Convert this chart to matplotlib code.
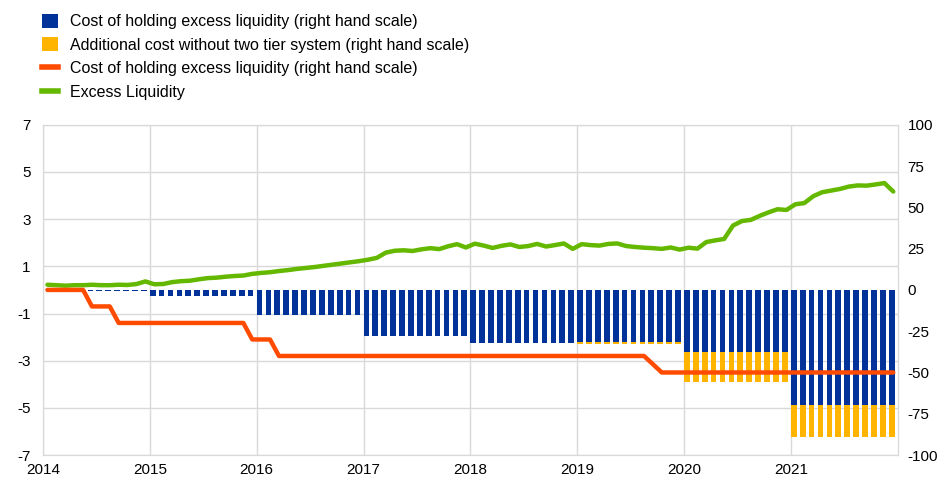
import numpy as np
import matplotlib
matplotlib.use("Agg")
import matplotlib.pyplot as plt
from matplotlib.patches import Patch
from matplotlib.lines import Line2D

plt.rcParams['font.family'] = ['Liberation Sans', 'DejaVu Sans']
plt.rcParams['axes.unicode_minus'] = False

# colours
BLUE = '#003299'
YELLOW = '#FFB400'
ORANGE = '#FF4B00'
GREEN = '#65B800'
GRID = '#d9d9d9'

# monthly data, Jan 2014 .. Dec 2021
start_year = 2014
year_labels = ['2014', '2015', '2016', '2017', '2018', '2019', '2020', '2021']

# cost of holding excess liquidity (right hand scale)
cost_blue = ([0] * 5 + [-0.7] * 7 + [-3.5] * 12 + [-15.2] * 12 + [-28] * 12
             + [-32] * 12 + [-31.5] * 12 + [-37.5] * 12 + [-69.5] * 12)
# additional cost without two tier system (right hand scale)
cost_yellow = ([0] * 60 + [-1.5] * 12 + [-18.5] * 12 + [-19.5] * 12)
# deposit facility rate line (right hand scale)
rate_line = ([0] * 5 + [-10] * 3 + [-20] * 15 + [-30] * 3 + [-40] * 42
             + [-45] + [-50] * 27)
# excess liquidity (left hand scale)
excess_liq = [
    0.22, 0.20, 0.18, 0.20, 0.20, 0.22, 0.20, 0.20, 0.22, 0.21, 0.25, 0.36,
    0.24, 0.25, 0.33, 0.37, 0.39, 0.45, 0.50, 0.52, 0.56, 0.59, 0.61, 0.68,
    0.72, 0.75, 0.80, 0.84, 0.89, 0.93, 0.97, 1.02, 1.07, 1.12, 1.17, 1.22,
    1.28, 1.36, 1.58, 1.66, 1.68, 1.65, 1.72, 1.77, 1.73, 1.85, 1.94, 1.80,
    1.96, 1.88, 1.78, 1.87, 1.93, 1.82, 1.86, 1.95, 1.84, 1.90, 1.97, 1.74,
    1.94, 1.90, 1.88, 1.95, 1.97, 1.86, 1.82, 1.79, 1.77, 1.74, 1.80, 1.71,
    1.79, 1.75, 2.03, 2.10, 2.16, 2.73, 2.92, 2.97, 3.14, 3.29, 3.42, 3.39,
    3.63, 3.68, 3.97, 4.14, 4.21, 4.28, 4.38, 4.43, 4.42, 4.47, 4.53, 4.17,
]

labels = [
    'Cost of holding excess liquidity (right hand scale)',
    'Additional cost without two tier system (right hand scale)',
    'Cost of holding excess liquidity (right hand scale)',
    'Excess Liquidity',
]

n = len(excess_liq)
month_start = start_year + np.arange(n) / 12
month_mid = month_start + 0.5 / 12

fig = plt.figure(figsize=(9.45, 4.8), dpi=100)
ax = fig.add_axes([0.0455, 0.052, 0.9045, 0.688])
ax2 = ax.twinx()

# left axis: grid + excess liquidity
ax.set_xlim(start_year, start_year + 8)
ax.set_ylim(-7, 7)
ax.set_yticks(np.arange(-7, 8, 2))
ax.set_xticks(np.arange(start_year, start_year + 8))
ax.set_xticklabels(year_labels)
ax.grid(True, color=GRID, linewidth=1)
ax.set_axisbelow(True)
ax.plot(month_mid, excess_liq, color=GREEN, linewidth=3.2,
        solid_capstyle='round', solid_joinstyle='round', zorder=3)

# right axis: bars + rate line
bw = 0.64 / 12
ax2.bar(month_start, cost_blue, width=bw, align='edge', color=BLUE, linewidth=0)
ax2.bar(month_start, cost_yellow, width=bw, align='edge', bottom=cost_blue,
        color=YELLOW, linewidth=0)
ax2.plot(month_mid, rate_line, color=ORANGE, linewidth=3.2,
         solid_capstyle='round', solid_joinstyle='round')
ax2.set_ylim(-100, 100)
ax2.set_yticks(np.arange(-100, 101, 25))

for a in (ax, ax2):
    for s in a.spines.values():
        s.set_color(GRID)
    a.tick_params(length=0, labelsize=11, colors='black')
ax.tick_params(axis='y', pad=9)
ax.tick_params(axis='x', pad=6)
ax2.tick_params(axis='y', pad=7)

handles = [
    Patch(facecolor=BLUE, edgecolor='none'),
    Patch(facecolor=YELLOW, edgecolor='none'),
    Line2D([], [], color=ORANGE, linewidth=4),
    Line2D([], [], color=GREEN, linewidth=4),
]
fig.legend(handles, labels, loc='upper left', bbox_to_anchor=(0.038, 0.985),
           frameon=False, fontsize=11.5, handlelength=1.0, handleheight=1.0,
           handletextpad=0.75, labelspacing=0.5, borderaxespad=0)

fig.savefig('out.png', dpi=100)
